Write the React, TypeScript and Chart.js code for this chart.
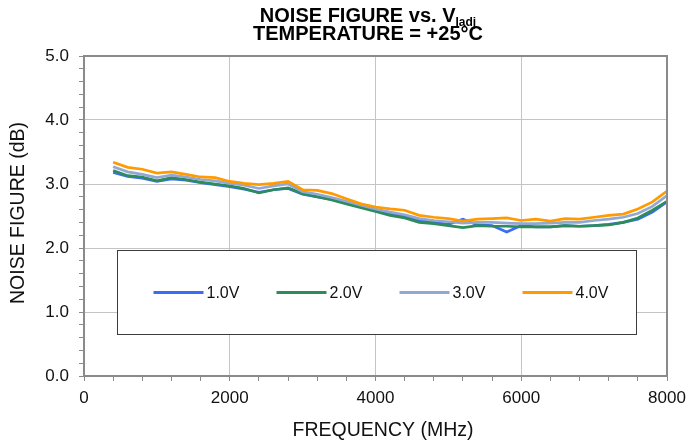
import React, { useEffect, useRef } from "react";
import { Chart, registerables } from "chart.js";

Chart.register(...registerables);

// ---- data ----
const FREQ_MHZ = [
  400, 600, 800, 1000, 1200, 1400, 1600, 1800, 2000, 2200, 2400, 2600, 2800, 3000,
  3200, 3400, 3600, 3800, 4000, 4200, 4400, 4600, 4800, 5000, 5200, 5400, 5600,
  5800, 6000, 6200, 6400, 6600, 6800, 7000, 7200, 7400, 7600, 7800, 8000,
];

const NF_1V0 = [
  3.18, 3.12, 3.09, 3.04, 3.08, 3.06, 3.02, 2.99, 2.96, 2.92, 2.87, 2.91, 2.93, 2.84,
  2.8, 2.76, 2.7, 2.64, 2.59, 2.54, 2.49, 2.43, 2.4, 2.37, 2.45, 2.36, 2.35,
  2.25, 2.35, 2.33, 2.33, 2.35, 2.34, 2.35, 2.37, 2.4, 2.45, 2.56, 2.72,
];

const NF_2V0 = [
  3.21, 3.13, 3.11, 3.05, 3.1, 3.07, 3.03, 3.0, 2.97, 2.93, 2.86, 2.91, 2.94, 2.85,
  2.8, 2.75, 2.69, 2.63, 2.57, 2.51, 2.47, 2.4, 2.38, 2.35, 2.32, 2.35, 2.34,
  2.34, 2.33, 2.33, 2.33, 2.35, 2.34, 2.35, 2.36, 2.4, 2.47, 2.59, 2.73,
];

const NF_3V0 = [
  3.27, 3.19, 3.15, 3.1, 3.14, 3.11, 3.07, 3.05, 3.01, 2.98, 2.93, 2.97, 3.0, 2.88,
  2.84, 2.79, 2.73, 2.67, 2.61, 2.56, 2.52, 2.46, 2.43, 2.41, 2.39, 2.4, 2.4,
  2.39, 2.38, 2.38, 2.39, 2.4, 2.4, 2.43, 2.45, 2.48, 2.54, 2.65, 2.82,
];

const NF_4V0 = [
  3.34, 3.26, 3.23, 3.17, 3.19, 3.15, 3.11, 3.1, 3.04, 3.01, 2.99, 3.01, 3.04, 2.91,
  2.9, 2.85, 2.77, 2.69, 2.64, 2.61, 2.59, 2.51, 2.48, 2.46, 2.42, 2.45, 2.46,
  2.47, 2.43, 2.45, 2.42, 2.46, 2.45, 2.48, 2.51, 2.53, 2.61, 2.72, 2.89,
];

const SERIES_LABELS = ["1.0V", "2.0V", "3.0V", "4.0V"];
const SERIES_COLORS = ["#3a6cf4", "#2e8b5a", "#90a8d2", "#ff9a00"];

const X_TICK_LABELS = ["0", "2000", "4000", "6000", "8000"];
const Y_TICK_LABELS = ["0.0", "1.0", "2.0", "3.0", "4.0", "5.0"];

const TITLE_MAIN = "NOISE FIGURE vs. V";
const TITLE_SUB = "Iadj";
const TITLE_LINE2 = "TEMPERATURE = +25°C";
const X_TITLE = "FREQUENCY (MHz)";
const Y_TITLE = "NOISE FIGURE (dB)";

const FONT = '"Liberation Sans", Arial, sans-serif';

const xLabel = (v: number) => {
  const s = String(Math.round(v));
  return X_TICK_LABELS.includes(s) && Math.abs(v - Math.round(v)) < 1e-6 ? s : "";
};
const yLabel = (v: number) => {
  const s = Number(v).toFixed(1);
  return Math.abs(v - Math.round(v)) < 1e-6 && Y_TICK_LABELS.includes(s) ? s : "";
};

const decorPlugin = {
  id: "decor",
  beforeDatasetsDraw(chart: any) {
    const ctx = chart.ctx as CanvasRenderingContext2D;
    ctx.save();
    // legend box
    const bx = 117.5, by = 250.5, bw = 519, bh = 84;
    ctx.fillStyle = "#ffffff";
    ctx.fillRect(bx, by, bw, bh);
    ctx.strokeStyle = "#3c3c3c";
    ctx.lineWidth = 1;
    ctx.strokeRect(bx, by, bw, bh);
    ctx.font = `16px ${FONT}`;
    ctx.textBaseline = "middle";
    ctx.textAlign = "left";
    chart.data.datasets.forEach((ds: any, i: number) => {
      const x0 = 153.5 + i * 123;
      const y = 292.5;
      ctx.strokeStyle = ds.borderColor;
      ctx.lineWidth = 3;
      ctx.beginPath();
      ctx.moveTo(x0, y);
      ctx.lineTo(x0 + 50, y);
      ctx.stroke();
      ctx.fillStyle = "#111";
      ctx.fillText(ds.label, x0 + 53, y + 1);
    });
    ctx.restore();
  },
  afterDraw(chart: any) {
    const ctx = chart.ctx as CanvasRenderingContext2D;
    const a = chart.chartArea;
    ctx.save();
    // plot border
    ctx.strokeStyle = "#8a8a8a";
    ctx.lineWidth = 2;
    ctx.strokeRect(a.left, a.top, a.right - a.left, a.bottom - a.top);
    // title
    const cx = 368;
    ctx.fillStyle = "#000";
    ctx.textBaseline = "alphabetic";
    ctx.textAlign = "left";
    ctx.font = `bold 20px ${FONT}`;
    const wMain = ctx.measureText(TITLE_MAIN).width;
    ctx.font = `bold 12px ${FONT}`;
    const wSub = ctx.measureText(TITLE_SUB).width;
    const start = cx - (wMain + wSub) / 2;
    ctx.font = `bold 20px ${FONT}`;
    ctx.fillText(TITLE_MAIN, start, 22);
    ctx.font = `bold 12px ${FONT}`;
    ctx.fillText(TITLE_SUB, start + wMain, 26);
    ctx.font = `bold 20px ${FONT}`;
    ctx.textAlign = "center";
    ctx.fillText(TITLE_LINE2, cx, 40);
    // axis titles
    ctx.fillStyle = "#111";
    ctx.font = `19.5px ${FONT}`;
    ctx.textAlign = "center";
    ctx.textBaseline = "middle";
    ctx.fillText(X_TITLE, 383, 431);
    ctx.translate(19, 213);
    ctx.rotate(-Math.PI / 2);
    ctx.fillText(Y_TITLE, 0, 0);
    ctx.restore();
  },
};

export default function App() {
  const ref = useRef<HTMLCanvasElement | null>(null);

  useEffect(() => {
    if (!ref.current) return;
    const series = [NF_1V0, NF_2V0, NF_3V0, NF_4V0];
    const drawOrder = [3, 2, 1, 0];
    const chart = new Chart(ref.current, {
      type: "line",
      data: {
        datasets: series.map((vals, i) => ({
          label: SERIES_LABELS[i],
          data: FREQ_MHZ.map((f, j) => ({ x: f, y: vals[j] })),
          borderColor: SERIES_COLORS[i],
          backgroundColor: SERIES_COLORS[i],
          borderWidth: 2.7,
          pointRadius: 0,
          tension: 0,
          fill: false,
          order: drawOrder[i],
        })),
      },
      options: {
        animation: false,
        responsive: false,
        maintainAspectRatio: false,
        layout: { padding: { top: 56, right: 21, left: 0, bottom: 0 } },
        plugins: {
          legend: { display: false },
          title: { display: false },
          tooltip: { enabled: false },
        },
        scales: {
          x: {
            type: "linear",
            min: 0,
            max: 8000,
            afterFit: (s: any) => {
              s.height = 72;
              s.paddingLeft = 0;
              s.paddingRight = 0;
            },
            border: { display: false },
            grid: {
              color: (c: any) =>
                c.tick && xLabel(c.tick.value) !== "" ? "#c4c4c4" : "rgba(0,0,0,0)",
              tickColor: "#8a8a8a",
              tickLength: 5,
              lineWidth: 1,
            },
            ticks: {
              stepSize: 400,
              autoSkip: false,
              maxRotation: 0,
              padding: 7,
              color: "#111",
              font: { family: FONT, size: 17 },
              callback: (v: any) => xLabel(Number(v)),
            },
            title: { display: false },
          },
          y: {
            type: "linear",
            min: 0,
            max: 5,
            afterFit: (s: any) => {
              s.width = 84;
              s.paddingTop = 0;
              s.paddingBottom = 0;
            },
            border: { display: false },
            grid: {
              color: (c: any) =>
                c.tick && yLabel(c.tick.value) !== "" ? "#c4c4c4" : "rgba(0,0,0,0)",
              tickColor: "#8a8a8a",
              tickLength: 5,
              lineWidth: 1,
            },
            ticks: {
              stepSize: 0.2,
              autoSkip: false,
              padding: 10,
              color: "#111",
              font: { family: FONT, size: 17 },
              callback: (v: any) => yLabel(Number(v)),
            },
            title: { display: false },
          },
        },
      },
      plugins: [decorPlugin],
    } as any);
    return () => chart.destroy();
  }, []);

  return (
    <div style={{ position: "fixed", left: 0, top: 0, width: 688, height: 448, background: "#fff" }}>
      <canvas ref={ref} width={688} height={448} style={{ width: 688, height: 448 }} />
    </div>
  );
}
